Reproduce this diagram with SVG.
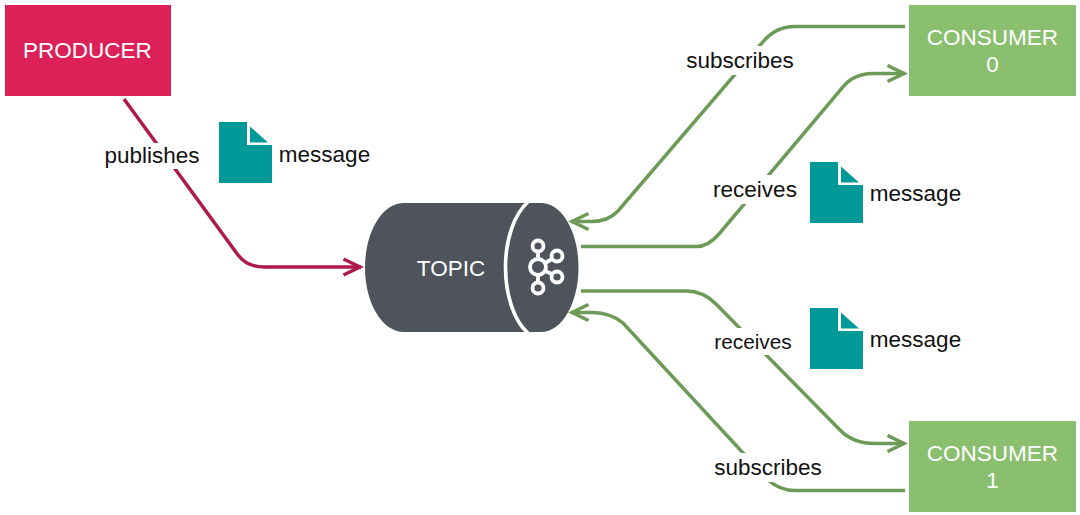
<svg xmlns="http://www.w3.org/2000/svg" width="1080" height="515" viewBox="0 0 1080 515">
<style>
text{font-family:"Liberation Sans",Arial,sans-serif;font-size:22.5px}
.lbl{fill:#111;text-anchor:middle}
.wt{fill:#fff;text-anchor:middle}
.g{fill:none;stroke:#6d9a57;stroke-width:3.5}
.r{fill:none;stroke:#ad1a4b;stroke-width:3.5}
.doc{fill:#009999}
.ic{fill:none;stroke:#fff;stroke-width:3.8}
</style>
<defs>
<marker id="ag" markerUnits="userSpaceOnUse" markerWidth="24" markerHeight="24" refX="19" refY="10" orient="auto"><path d="M1.500 2L18 10L1.500 18" fill="none" stroke="#6d9a57" stroke-width="3.5"/></marker>
<marker id="ar" markerUnits="userSpaceOnUse" markerWidth="24" markerHeight="24" refX="19" refY="10" orient="auto"><path d="M1.500 2L18 10L1.500 18" fill="none" stroke="#ad1a4b" stroke-width="3.5"/></marker>
<g id="docshape"><path class="doc" d="M0 0H28V23H53V61H0Z"/><path class="doc" d="M31 4.500L49 20.500H31Z"/></g>
</defs>
<g id="connectors">
<path class="r" marker-end="url(#ar)" d="M124 99L238 255Q247 267 264 267H361"/>
<path class="g" marker-end="url(#ag)" d="M905 26.500H795Q775 26.500 762 43L618 211Q608 221.500 592 221.500H571"/>
<path class="g" marker-end="url(#ag)" d="M581 246.500H697Q708 246.500 719 234L843 87Q853 74 873 73.500H905"/>
<path class="g" marker-end="url(#ag)" d="M581 291H686Q703 291 716 304L840 430Q853 443.500 875 443.500H905"/>
<path class="g" marker-end="url(#ag)" d="M905 490.500H795Q780 490.500 768 480L623 323Q610 312.500 593 312.500H571"/>
<rect x="100" y="143" width="105" height="26" fill="#fff"/>
<rect x="682" y="46" width="116" height="29" fill="#fff"/>
<rect x="709" y="175" width="92" height="29" fill="#fff"/>
<rect x="711" y="328" width="84" height="27" fill="#fff"/>
<rect x="711" y="453" width="114" height="29" fill="#fff"/>
<text class="lbl" x="152" y="163">publishes</text>
<text class="lbl" x="740" y="68">subscribes</text>
<text class="lbl" x="755" y="197">receives</text>
<text class="lbl" x="753" y="349" style="font-size:20.8px">receives</text>
<text class="lbl" x="768" y="475">subscribes</text>
</g>
<g id="producer"><rect x="5" y="5" width="166" height="91" fill="#db2158"/><text class="wt" x="87.500" y="58">PRODUCER</text></g>
<g id="consumer0"><rect x="909" y="5" width="167" height="91" fill="#8abf6f"/><text class="wt" x="992.500" y="45">CONSUMER</text><text class="wt" x="992.500" y="72">0</text></g>
<g id="consumer1"><rect x="909" y="421" width="167" height="91" fill="#8abf6f"/><text class="wt" x="992.500" y="461">CONSUMER</text><text class="wt" x="992.500" y="488">1</text></g>
<g id="topic">
<path fill="#4f545c" d="M404 203H541C562 203 578.500 232 578.500 267.500C578.500 303 562 332 541 332H404C382 332 365 303 365 267.500C365 232 382 203 404 203Z"/>
<path fill="none" stroke="#fff" stroke-width="3.600" d="M528 202C514 214 505.500 240 505.500 267.500C505.500 295 514 321 528 333"/>
<text class="wt" x="451" y="276">TOPIC</text>
<g class="ic"><circle cx="538" cy="246" r="5.500"/><circle cx="557" cy="256" r="5.500"/><circle cx="557" cy="277" r="5.500"/><circle cx="538" cy="288" r="5.500"/><circle cx="538" cy="267" r="8"/><path d="M538 251.500V259M538 275V282.500M545 263L552 259M545 271L552 274"/></g>
</g>
<g id="msg1"><use href="#docshape" x="219" y="122"/><text class="lbl" x="324.500" y="162">message</text></g>
<g id="msg2"><use href="#docshape" x="810" y="162"/><text class="lbl" x="915.500" y="201">message</text></g>
<g id="msg3"><use href="#docshape" x="810" y="308"/><text class="lbl" x="915.500" y="347">message</text></g>
</svg>
